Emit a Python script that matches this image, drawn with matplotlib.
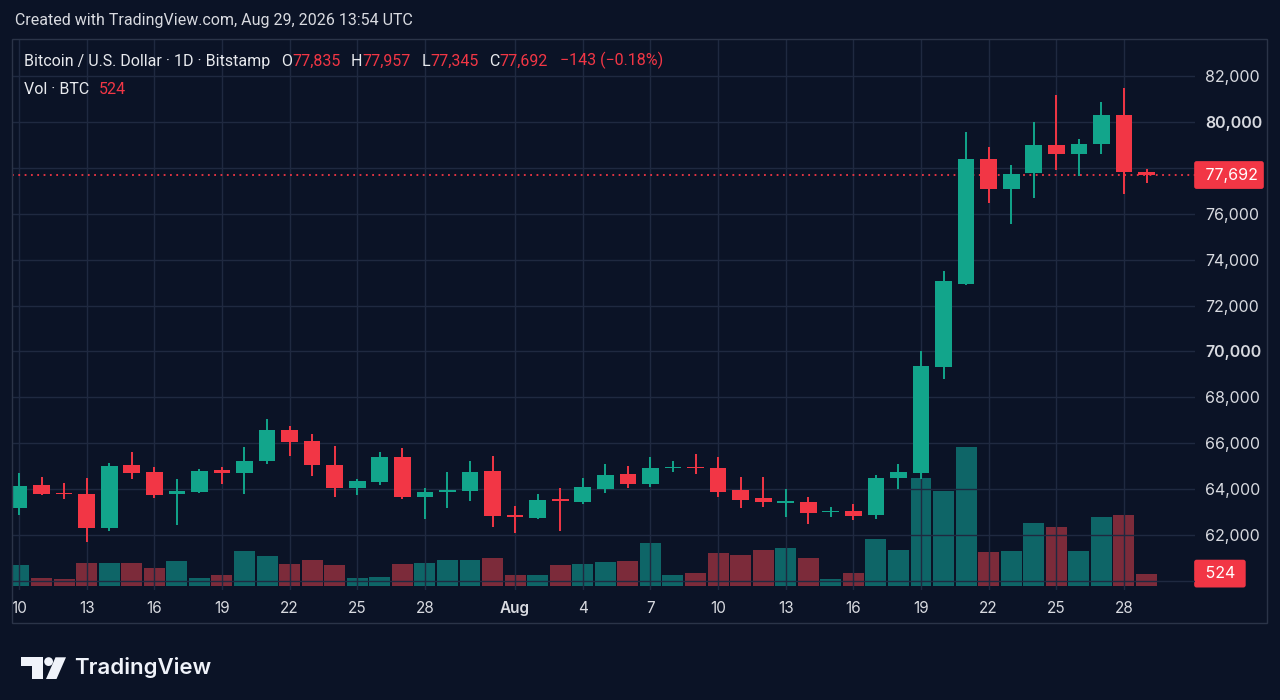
import numpy as np
import pandas as pd
import matplotlib
matplotlib.use('Agg')
import matplotlib.pyplot as plt
from matplotlib.patches import Polygon, Circle, Rectangle

# daily BTC/USD candles, Jul 10 - Aug 29 2026
dates = pd.date_range('2026-07-10', '2026-08-29', freq='D')

opens = [63180, 64170, 63830, 63770, 62290, 65040, 64760, 63770, 63870, 64850,
         64690, 65210, 66560, 66110, 65070, 64040, 64300, 65390, 63670, 63900,
         63920, 64780, 62850, 62730, 63560, 63450, 64020, 64650, 64220, 64920,
         64960, 64910, 63950, 63600, 63430, 63450, 63010, 63030, 62860, 64480,
         64700, 69310, 72960, 78390, 77090, 77790, 79020, 78590, 79040, 80320,
         77835]
highs = [64700, 64520, 64280, 64470, 65130, 65630, 64980, 64460, 64860, 64960,
         65840, 67040, 66740, 66390, 65890, 64450, 65620, 65800, 64060, 64730,
         65210, 65440, 63260, 63790, 64040, 64500, 65080, 65000, 65390, 65210,
         65530, 65390, 64540, 64520, 63990, 63640, 63200, 63350, 64610, 65110,
         70020, 73510, 79570, 78920, 78120, 80020, 81200, 79280, 80870, 81470,
         77957]
lows = [62870, 63740, 63580, 61680, 62190, 64430, 63630, 62440, 63820, 64240,
        63800, 65080, 65460, 64570, 63640, 63740, 64180, 63570, 62710, 63160,
        63500, 62340, 62070, 62700, 62170, 63340, 63820, 64060, 64080, 64730,
        64650, 63670, 63180, 63210, 62770, 62490, 62800, 62650, 62710, 64010,
        64450, 68790, 72900, 76490, 75540, 76710, 77910, 77640, 78590, 76850,
        77345]
closes = [64150, 63770, 63780, 62290, 65010, 64700, 63760, 63930, 64800, 64690,
          65240, 66560, 66050, 65040, 64040, 64350, 65390, 63670, 63860, 63960,
          64760, 62830, 62810, 63540, 63510, 64080, 64630, 64240, 64910, 64960,
          64920, 63870, 63530, 63430, 63470, 62960, 63050, 62830, 64480, 64730,
          69370, 73060, 78390, 77090, 77750, 79020, 78590, 79050, 80320, 77835,
          77692]
volumes = [905, 355, 313, 960, 990, 960, 761, 1074, 326, 465,
           1497, 1269, 948, 1087, 888, 326, 398, 948, 973, 1100,
           1117, 1201, 453, 453, 876, 948, 1003, 1045, 1806, 482,
           567, 1396, 1328, 1523, 1595, 1201, 313, 537, 2005, 1514,
           4560, 4023, 5900, 1430, 1485, 2682, 2504, 1472, 2927, 2986,
           524]

tick_days = [0, 3, 6, 9, 12, 15, 18, 22, 25, 28, 31, 34, 37, 40, 43, 46, 49]
price_ticks = list(range(60000, 84000, 2000))

BG = '#0b1326'
GRID = '#1f2940'
FRAME = '#2b3448'
TXT = '#d8dae0'
UP = '#12a58b'
DOWN = '#f23645'
UP_VOL = '#0e6567'
DOWN_VOL = '#7c2b3a'
HEAD_FONT = ['Roboto', 'DejaVu Sans']

plt.rcParams['font.family'] = ['Inter', 'DejaVu Sans']

fig = plt.figure(figsize=(12.8, 7), dpi=100, facecolor=BG)
ax = fig.add_axes([12 / 1280, 110 / 700, 1183 / 1280, 551 / 700])
axv = ax.twinx()
ax.set_zorder(axv.get_zorder() + 1)
ax.patch.set_visible(False)
axv.patch.set_visible(False)

x = np.arange(len(dates))
o = np.array(opens)
c = np.array(closes)
up = c >= o
col = np.where(up, UP, DOWN)

# volume pane
axv.bar(x, volumes, width=0.93, color=np.where(up, UP_VOL, DOWN_VOL), zorder=1)
axv.set_ylim(-170, 23150)
axv.set_yticks([])

# candles (dojis get a thin visible body)
ax.vlines(x, lows, highs, colors=col, lw=1.4, zorder=3)
body = np.where(np.abs(c - o) < 70, np.where(up, 70, -70), c - o)
ax.bar(x, body, bottom=np.where(np.abs(c - o) < 70, (o + c) / 2 - body / 2, o),
       width=0.74, color=col, zorder=4)
ax.axhline(closes[-1], color=DOWN, lw=1.3, ls=(0, (1, 2.5)), zorder=2)

ax.set_xlim(-0.31, 52.15)
ax.set_ylim(59603, 83621)
for s in list(ax.spines.values()) + list(axv.spines.values()):
    s.set_visible(False)

ax.set_axisbelow(True)
ax.grid(True, color=GRID, lw=1)
ax.set_xticks(tick_days)
xlabels = []
for d in tick_days:
    dt = dates[d]
    xlabels.append(dt.strftime('%b') if dt.day == 1 else str(dt.day))
ax.set_xticklabels(xlabels)
ax.yaxis.tick_right()
ax.set_yticks(price_ticks)
ylabels = []
for p in price_ticks:
    ylabels.append('' if p in (60000, 78000) else f'{p:,}')
ax.set_yticklabels(ylabels)
ax.tick_params(axis='both', length=0, labelcolor=TXT)
ax.tick_params(axis='x', pad=8, labelsize=11)
ax.tick_params(axis='y', pad=7.5, labelsize=11.5)
for lab in ax.get_yticklabels():
    if lab.get_text() in ('70,000', '80,000'):
        lab.set_fontweight('semibold')
for lab in ax.get_xticklabels():
    if lab.get_text() == 'Aug':
        lab.set_fontweight('semibold')

# last price / last volume badges
badge = dict(boxstyle='round,pad=0.4,rounding_size=0.15', fc=DOWN, ec='none')
ax.annotate(f' {closes[-1]:,}', xy=(1, closes[-1]), xycoords=ax.get_yaxis_transform(),
            xytext=(4, 0), textcoords='offset points', ha='left', va='center',
            color='white', fontsize=11.5, annotation_clip=False, zorder=10, bbox=badge)
axv.annotate(f' {volumes[-1]:,} ', xy=(1, volumes[-1]), xycoords=axv.get_yaxis_transform(),
             xytext=(4, 0), textcoords='offset points', ha='left', va='center',
             color='white', fontsize=11.5, annotation_clip=False, zorder=10, bbox=badge)

# overlay in pixel coords for frame, header and logo
ov = fig.add_axes([0, 0, 1, 1], zorder=5)
ov.set_xlim(0, 1280)
ov.set_ylim(700, 0)
ov.axis('off')
ov.add_patch(Rectangle((12, 38.5), 1255, 584, fc='none', ec=FRAME, lw=1))

ov.text(15, 20.5, 'Created with TradingView.com, Aug 29, 2026 13:54 UTC',
        color=TXT, fontsize=11.5, va='center', family=HEAD_FONT)


def chain_text(axis, x0, y0, parts, size=11.5):
    t = axis.text(x0, y0, parts[0][0], color=parts[0][1], fontsize=size, va='center',
                  family=HEAD_FONT)
    for s, colr, gap in parts[1:]:
        t = axis.annotate(s, xy=(1, 0), xycoords=t, xytext=(gap, 0),
                          textcoords='offset points', va='bottom', ha='left',
                          color=colr, fontsize=size, family=HEAD_FONT)
    return t


chg = closes[-1] - closes[-2]
pct = chg / closes[-2] * 100
W = '#e8eaee'
chain_text(ov, 24, 61.5, [
    ('Bitcoin / U.S. Dollar \u00b7 1D \u00b7 Bitstamp', W),
    ('O', W, 7.5), (f'{opens[-1]:,}', DOWN, 0.3),
    ('H', W, 7.5), (f'{highs[-1]:,}', DOWN, 0.3),
    ('L', W, 7.5), (f'{lows[-1]:,}', DOWN, 0.3),
    ('C', W, 7.5), (f'{closes[-1]:,}', DOWN, 0.3),
    (f'\u2212{abs(chg)} (\u2212{abs(pct):.2f}%)', DOWN, 8.5),
])
chain_text(ov, 24, 89.5, [('Vol \u00b7 BTC', W), (f'{volumes[-1]:,}', DOWN, 7)])

# TradingView logo
LOGO = '#f0f3fa'
ov.add_patch(Polygon([(20.7, 657.3), (42.7, 657.3), (42.7, 679), (31.7, 679),
                      (31.7, 666), (20.7, 666)], closed=True, fc=LOGO, ec='none'))
ov.add_patch(Circle((48.6, 661.6), 4.4, fc=LOGO, ec='none'))
ov.add_patch(Polygon([(55.5, 657.3), (66, 657.3), (56.5, 679), (46, 679)],
                     closed=True, fc=LOGO, ec='none'))
ov.text(74, 668, 'TradingView', color=LOGO, fontsize=16, fontweight='semibold',
        va='center', ha='left')

fig.savefig('out.png', dpi=100, facecolor=BG)
